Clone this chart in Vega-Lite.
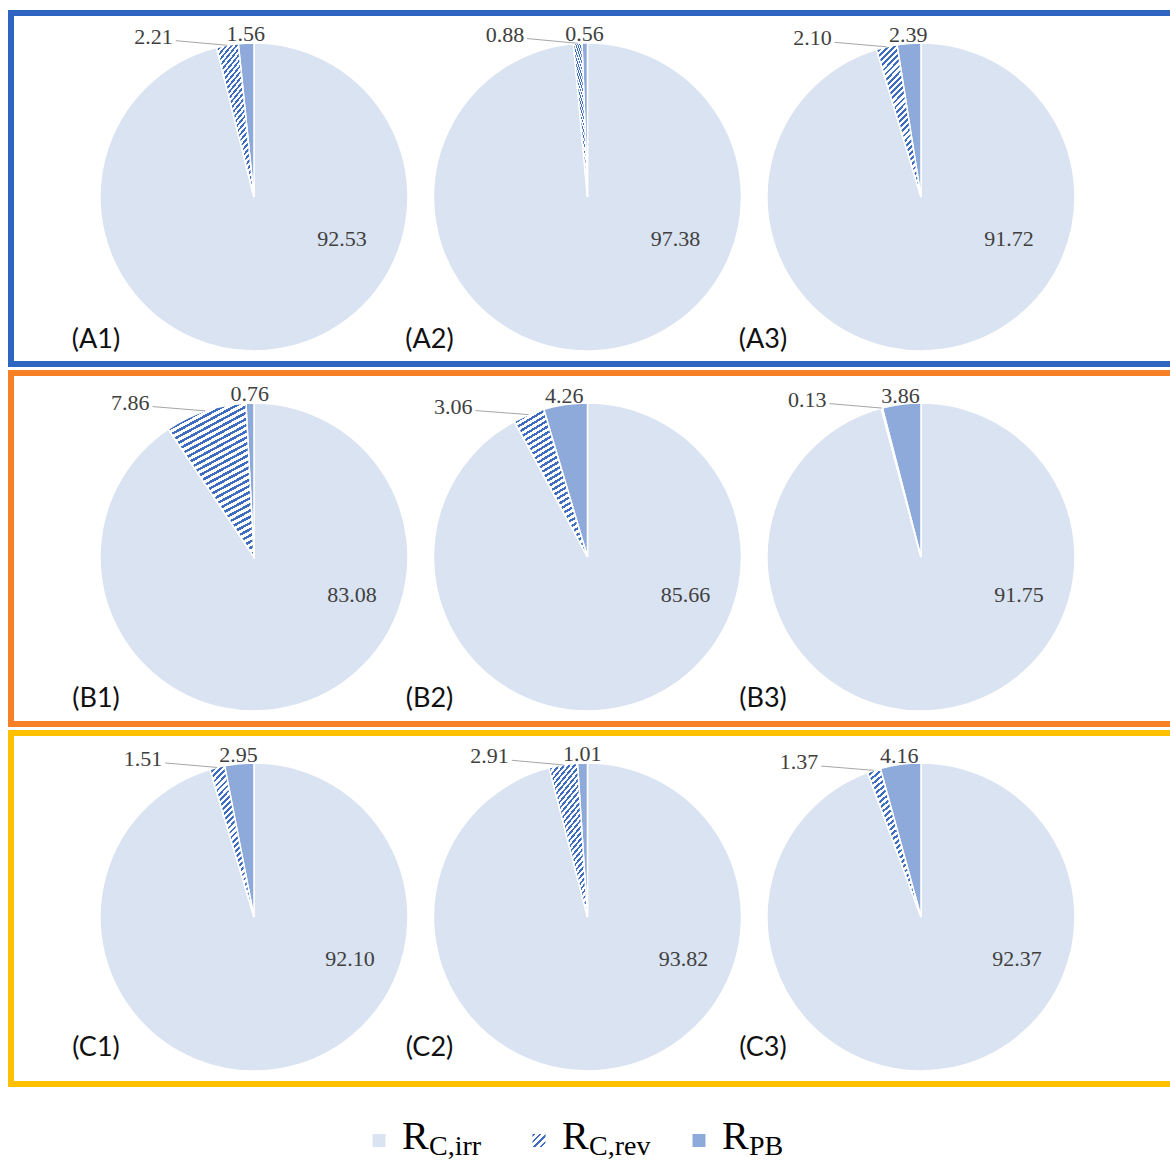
{
  "$schema": "https://vega.github.io/schema/vega-lite/v6.json",
  "background": "#ffffff",
  "padding": {"left": 8, "top": 10, "right": 0, "bottom": 0},
  "config": {"view": {"stroke": null}},
  "datasets": {
    "shares": [
      {"pie": "A1", "row": "A", "col": 1, "part": "irr", "ord": 0, "value": 92.53},
      {"pie": "A1", "row": "A", "col": 1, "part": "rev", "ord": 1, "value": 2.21},
      {"pie": "A1", "row": "A", "col": 1, "part": "pb", "ord": 2, "value": 1.56},
      {"pie": "A2", "row": "A", "col": 2, "part": "irr", "ord": 0, "value": 97.38},
      {"pie": "A2", "row": "A", "col": 2, "part": "rev", "ord": 1, "value": 0.88},
      {"pie": "A2", "row": "A", "col": 2, "part": "pb", "ord": 2, "value": 0.56},
      {"pie": "A3", "row": "A", "col": 3, "part": "irr", "ord": 0, "value": 91.72},
      {"pie": "A3", "row": "A", "col": 3, "part": "rev", "ord": 1, "value": 2.10},
      {"pie": "A3", "row": "A", "col": 3, "part": "pb", "ord": 2, "value": 2.39},
      {"pie": "B1", "row": "B", "col": 1, "part": "irr", "ord": 0, "value": 83.08},
      {"pie": "B1", "row": "B", "col": 1, "part": "rev", "ord": 1, "value": 7.86},
      {"pie": "B1", "row": "B", "col": 1, "part": "pb", "ord": 2, "value": 0.76},
      {"pie": "B2", "row": "B", "col": 2, "part": "irr", "ord": 0, "value": 85.66},
      {"pie": "B2", "row": "B", "col": 2, "part": "rev", "ord": 1, "value": 3.06},
      {"pie": "B2", "row": "B", "col": 2, "part": "pb", "ord": 2, "value": 4.26},
      {"pie": "B3", "row": "B", "col": 3, "part": "irr", "ord": 0, "value": 91.75},
      {"pie": "B3", "row": "B", "col": 3, "part": "rev", "ord": 1, "value": 0.13},
      {"pie": "B3", "row": "B", "col": 3, "part": "pb", "ord": 2, "value": 3.86},
      {"pie": "C1", "row": "C", "col": 1, "part": "irr", "ord": 0, "value": 92.10},
      {"pie": "C1", "row": "C", "col": 1, "part": "rev", "ord": 1, "value": 1.51},
      {"pie": "C1", "row": "C", "col": 1, "part": "pb", "ord": 2, "value": 2.95},
      {"pie": "C2", "row": "C", "col": 2, "part": "irr", "ord": 0, "value": 93.82},
      {"pie": "C2", "row": "C", "col": 2, "part": "rev", "ord": 1, "value": 2.91},
      {"pie": "C2", "row": "C", "col": 2, "part": "pb", "ord": 2, "value": 1.01},
      {"pie": "C3", "row": "C", "col": 3, "part": "irr", "ord": 0, "value": 92.37},
      {"pie": "C3", "row": "C", "col": 3, "part": "rev", "ord": 1, "value": 1.37},
      {"pie": "C3", "row": "C", "col": 3, "part": "pb", "ord": 2, "value": 4.16}
    ],
    "keys": [
      {"key": "irr", "main": "R", "sub": "C,irr"},
      {"key": "rev", "main": "R", "sub": "C,rev"},
      {"key": "pb", "main": "R", "sub": "PB"}
    ]
  },
  "data": {"name": "shares"},
  "transform": [
    {"joinaggregate": [{"op": "sum", "field": "value", "as": "total"}], "groupby": ["pie"]},
    {"window": [{"op": "sum", "field": "value", "as": "cum"}], "groupby": ["pie"], "sort": [{"field": "ord"}], "frame": [null, 0]},
    {"calculate": "(datum.cum - datum.value) / datum.total", "as": "f0"},
    {"calculate": "datum.cum / datum.total", "as": "f1"},
    {"calculate": "PI * (datum.f0 + datum.f1)", "as": "ang"},
    {"calculate": "datum.col + 0.488 * sin(datum.ang)", "as": "lx"},
    {"calculate": "0.488 * cos(datum.ang)", "as": "ly"},
    {"calculate": "datum.lx - 0.15", "as": "rx"},
    {"calculate": "datum.ly - 0.012", "as": "ry"},
    {"calculate": "datum.col + 0.4618 * sin(datum.ang)", "as": "ex"},
    {"calculate": "0.4618 * cos(datum.ang)", "as": "ey"},
    {"calculate": "'(' + datum.pie + ')'", "as": "panel"}
  ],
  "bounds": "flush",
  "spacing": 9,
  "vconcat": [
    {
      "width": 1163, "height": 351,
      "view": {"stroke": "#2e65c0", "strokeWidth": 6},
      "transform": [{"filter": "datum.row === 'A'"}],
      "layer": [
        {
          "transform": [{"filter": "datum.part !== 'rev'"}],
          "mark": {"type": "arc", "radius": 154, "stroke": "#ffffff", "strokeWidth": 1.5},
          "encoding": {
            "x": {"field": "col", "type": "quantitative", "stack": null, "scale": {"domain": [0.2714, 3.7587], "nice": false, "zero": false}, "axis": null},
            "y": {"datum": 0, "type": "quantitative", "scale": {"domain": [-0.5007, 0.5517], "nice": false, "zero": false}, "axis": null},
            "theta": {"field": "f0", "type": "quantitative", "stack": null, "scale": {"domain": [0, 1], "range": [0, 6.283185307179586]}},
            "theta2": {"field": "f1"},
            "fill": {"condition": {"test": "datum.part === 'pb'", "value": "#8eaadb"}, "value": "#dae3f1"}
          }
        },
        {
          "transform": [{"filter": "datum.part === 'rev'"}],
          "mark": {
            "type": "arc", "radius": 154, "stroke": "#ffffff", "strokeWidth": 1.5,
            "fill": {
              "gradient": "linear", "x1": 0, "y1": 0, "x2": 0.358, "y2": 1.193,
              "stops": [
                {"offset": 0, "color": "#3d6cc0"}, {"offset": 0.0141, "color": "#3d6cc0"}, {"offset": 0.0141, "color": "#ffffff"}, {"offset": 0.0313, "color": "#ffffff"},
                {"offset": 0.0313, "color": "#3d6cc0"}, {"offset": 0.0453, "color": "#3d6cc0"}, {"offset": 0.0453, "color": "#ffffff"}, {"offset": 0.0625, "color": "#ffffff"},
                {"offset": 0.0625, "color": "#3d6cc0"}, {"offset": 0.0766, "color": "#3d6cc0"}, {"offset": 0.0766, "color": "#ffffff"}, {"offset": 0.0938, "color": "#ffffff"},
                {"offset": 0.0938, "color": "#3d6cc0"}, {"offset": 0.1078, "color": "#3d6cc0"}, {"offset": 0.1078, "color": "#ffffff"}, {"offset": 0.125, "color": "#ffffff"},
                {"offset": 0.125, "color": "#3d6cc0"}, {"offset": 0.1391, "color": "#3d6cc0"}, {"offset": 0.1391, "color": "#ffffff"}, {"offset": 0.1563, "color": "#ffffff"},
                {"offset": 0.1563, "color": "#3d6cc0"}, {"offset": 0.1703, "color": "#3d6cc0"}, {"offset": 0.1703, "color": "#ffffff"}, {"offset": 0.1875, "color": "#ffffff"},
                {"offset": 0.1875, "color": "#3d6cc0"}, {"offset": 0.2016, "color": "#3d6cc0"}, {"offset": 0.2016, "color": "#ffffff"}, {"offset": 0.2188, "color": "#ffffff"},
                {"offset": 0.2188, "color": "#3d6cc0"}, {"offset": 0.2328, "color": "#3d6cc0"}, {"offset": 0.2328, "color": "#ffffff"}, {"offset": 0.25, "color": "#ffffff"},
                {"offset": 0.25, "color": "#3d6cc0"}, {"offset": 0.2641, "color": "#3d6cc0"}, {"offset": 0.2641, "color": "#ffffff"}, {"offset": 0.2813, "color": "#ffffff"},
                {"offset": 0.2813, "color": "#3d6cc0"}, {"offset": 0.2953, "color": "#3d6cc0"}, {"offset": 0.2953, "color": "#ffffff"}, {"offset": 0.3125, "color": "#ffffff"},
                {"offset": 0.3125, "color": "#3d6cc0"}, {"offset": 0.3266, "color": "#3d6cc0"}, {"offset": 0.3266, "color": "#ffffff"}, {"offset": 0.3438, "color": "#ffffff"},
                {"offset": 0.3438, "color": "#3d6cc0"}, {"offset": 0.3578, "color": "#3d6cc0"}, {"offset": 0.3578, "color": "#ffffff"}, {"offset": 0.375, "color": "#ffffff"},
                {"offset": 0.375, "color": "#3d6cc0"}, {"offset": 0.3891, "color": "#3d6cc0"}, {"offset": 0.3891, "color": "#ffffff"}, {"offset": 0.4063, "color": "#ffffff"},
                {"offset": 0.4063, "color": "#3d6cc0"}, {"offset": 0.4203, "color": "#3d6cc0"}, {"offset": 0.4203, "color": "#ffffff"}, {"offset": 0.4375, "color": "#ffffff"},
                {"offset": 0.4375, "color": "#3d6cc0"}, {"offset": 0.4516, "color": "#3d6cc0"}, {"offset": 0.4516, "color": "#ffffff"}, {"offset": 0.4688, "color": "#ffffff"},
                {"offset": 0.4688, "color": "#3d6cc0"}, {"offset": 0.4828, "color": "#3d6cc0"}, {"offset": 0.4828, "color": "#ffffff"}, {"offset": 0.5, "color": "#ffffff"},
                {"offset": 0.5, "color": "#3d6cc0"}, {"offset": 0.5141, "color": "#3d6cc0"}, {"offset": 0.5141, "color": "#ffffff"}, {"offset": 0.5313, "color": "#ffffff"},
                {"offset": 0.5313, "color": "#3d6cc0"}, {"offset": 0.5453, "color": "#3d6cc0"}, {"offset": 0.5453, "color": "#ffffff"}, {"offset": 0.5625, "color": "#ffffff"},
                {"offset": 0.5625, "color": "#3d6cc0"}, {"offset": 0.5766, "color": "#3d6cc0"}, {"offset": 0.5766, "color": "#ffffff"}, {"offset": 0.5938, "color": "#ffffff"},
                {"offset": 0.5938, "color": "#3d6cc0"}, {"offset": 0.6078, "color": "#3d6cc0"}, {"offset": 0.6078, "color": "#ffffff"}, {"offset": 0.625, "color": "#ffffff"},
                {"offset": 0.625, "color": "#3d6cc0"}, {"offset": 0.6391, "color": "#3d6cc0"}, {"offset": 0.6391, "color": "#ffffff"}, {"offset": 0.6563, "color": "#ffffff"},
                {"offset": 0.6563, "color": "#3d6cc0"}, {"offset": 0.6703, "color": "#3d6cc0"}, {"offset": 0.6703, "color": "#ffffff"}, {"offset": 0.6875, "color": "#ffffff"},
                {"offset": 0.6875, "color": "#3d6cc0"}, {"offset": 0.7016, "color": "#3d6cc0"}, {"offset": 0.7016, "color": "#ffffff"}, {"offset": 0.7188, "color": "#ffffff"},
                {"offset": 0.7188, "color": "#3d6cc0"}, {"offset": 0.7328, "color": "#3d6cc0"}, {"offset": 0.7328, "color": "#ffffff"}, {"offset": 0.75, "color": "#ffffff"},
                {"offset": 0.75, "color": "#3d6cc0"}, {"offset": 0.7641, "color": "#3d6cc0"}, {"offset": 0.7641, "color": "#ffffff"}, {"offset": 0.7813, "color": "#ffffff"},
                {"offset": 0.7813, "color": "#3d6cc0"}, {"offset": 0.7953, "color": "#3d6cc0"}, {"offset": 0.7953, "color": "#ffffff"}, {"offset": 0.8125, "color": "#ffffff"},
                {"offset": 0.8125, "color": "#3d6cc0"}, {"offset": 0.8266, "color": "#3d6cc0"}, {"offset": 0.8266, "color": "#ffffff"}, {"offset": 0.8438, "color": "#ffffff"},
                {"offset": 0.8438, "color": "#3d6cc0"}, {"offset": 0.8578, "color": "#3d6cc0"}, {"offset": 0.8578, "color": "#ffffff"}, {"offset": 0.875, "color": "#ffffff"},
                {"offset": 0.875, "color": "#3d6cc0"}, {"offset": 0.8891, "color": "#3d6cc0"}, {"offset": 0.8891, "color": "#ffffff"}, {"offset": 0.9063, "color": "#ffffff"},
                {"offset": 0.9063, "color": "#3d6cc0"}, {"offset": 0.9203, "color": "#3d6cc0"}, {"offset": 0.9203, "color": "#ffffff"}, {"offset": 0.9375, "color": "#ffffff"},
                {"offset": 0.9375, "color": "#3d6cc0"}, {"offset": 0.9516, "color": "#3d6cc0"}, {"offset": 0.9516, "color": "#ffffff"}, {"offset": 0.9688, "color": "#ffffff"},
                {"offset": 0.9688, "color": "#3d6cc0"}, {"offset": 0.9828, "color": "#3d6cc0"}, {"offset": 0.9828, "color": "#ffffff"}, {"offset": 1, "color": "#ffffff"}
              ]
            }
          },
          "encoding": {
            "x": {"field": "col", "type": "quantitative", "stack": null, "scale": {"domain": [0.2714, 3.7587], "nice": false, "zero": false}, "axis": null},
            "y": {"datum": 0, "type": "quantitative", "scale": {"domain": [-0.5007, 0.5517], "nice": false, "zero": false}, "axis": null},
            "theta": {"field": "f0", "type": "quantitative", "stack": null, "scale": {"domain": [0, 1], "range": [0, 6.283185307179586]}},
            "theta2": {"field": "f1"}
          }
        },
        {
          "transform": [{"filter": "datum.part === 'rev'"}],
          "mark": {"type": "rule", "color": "#a6a6a6", "strokeWidth": 1},
          "encoding": {
            "x": {"field": "rx", "type": "quantitative", "scale": {"domain": [0.2714, 3.7587], "nice": false, "zero": false}, "axis": null},
            "y": {"field": "ry", "type": "quantitative", "scale": {"domain": [-0.5007, 0.5517], "nice": false, "zero": false}, "axis": null},
            "x2": {"field": "ex"},
            "y2": {"field": "ey"}
          }
        },
        {
          "transform": [{"filter": "datum.part === 'irr'"}],
          "mark": {"type": "text", "font": "Liberation Serif", "fontSize": 22, "fill": "#404040", "align": "center", "baseline": "middle", "dx": 88, "dy": 42},
          "encoding": {
            "x": {"field": "col", "type": "quantitative", "scale": {"domain": [0.2714, 3.7587], "nice": false, "zero": false}, "axis": null},
            "y": {"datum": 0, "type": "quantitative", "scale": {"domain": [-0.5007, 0.5517], "nice": false, "zero": false}, "axis": null},
            "text": {"field": "value", "type": "quantitative", "format": ".2f"}
          }
        },
        {
          "transform": [{"filter": "datum.part === 'pb'"}],
          "mark": {"type": "text", "font": "Liberation Serif", "fontSize": 22, "fill": "#404040", "align": "center", "baseline": "middle"},
          "encoding": {
            "x": {"field": "lx", "type": "quantitative", "scale": {"domain": [0.2714, 3.7587], "nice": false, "zero": false}, "axis": null},
            "y": {"field": "ly", "type": "quantitative", "scale": {"domain": [-0.5007, 0.5517], "nice": false, "zero": false}, "axis": null},
            "text": {"field": "value", "type": "quantitative", "format": ".2f"}
          }
        },
        {
          "transform": [{"filter": "datum.part === 'rev'"}],
          "mark": {"type": "text", "font": "Liberation Serif", "fontSize": 22, "fill": "#404040", "align": "right", "baseline": "middle", "dx": -53},
          "encoding": {
            "x": {"field": "lx", "type": "quantitative", "scale": {"domain": [0.2714, 3.7587], "nice": false, "zero": false}, "axis": null},
            "y": {"field": "ly", "type": "quantitative", "scale": {"domain": [-0.5007, 0.5517], "nice": false, "zero": false}, "axis": null},
            "text": {"field": "value", "type": "quantitative", "format": ".2f"}
          }
        },
        {
          "transform": [{"filter": "datum.part === 'irr'"}],
          "mark": {"type": "text", "font": "Lato", "fontSize": 27, "fill": "#111111", "align": "center", "baseline": "middle", "dx": -158, "dy": 143},
          "encoding": {
            "x": {"field": "col", "type": "quantitative", "scale": {"domain": [0.2714, 3.7587], "nice": false, "zero": false}, "axis": null},
            "y": {"datum": 0, "type": "quantitative", "scale": {"domain": [-0.5007, 0.5517], "nice": false, "zero": false}, "axis": null},
            "text": {"field": "panel"}
          }
        }
      ]
    },
    {
      "width": 1163, "height": 351,
      "view": {"stroke": "#f58025", "strokeWidth": 6},
      "transform": [{"filter": "datum.row === 'B'"}],
      "layer": [
        {
          "transform": [{"filter": "datum.part !== 'rev'"}],
          "mark": {"type": "arc", "radius": 154, "stroke": "#ffffff", "strokeWidth": 1.5},
          "encoding": {
            "x": {"field": "col", "type": "quantitative", "stack": null, "scale": {"domain": [0.2714, 3.7587], "nice": false, "zero": false}, "axis": null},
            "y": {"datum": 0, "type": "quantitative", "scale": {"domain": [-0.5007, 0.5517], "nice": false, "zero": false}, "axis": null},
            "theta": {"field": "f0", "type": "quantitative", "stack": null, "scale": {"domain": [0, 1], "range": [0, 6.283185307179586]}},
            "theta2": {"field": "f1"},
            "fill": {"condition": {"test": "datum.part === 'pb'", "value": "#8eaadb"}, "value": "#dae3f1"}
          }
        },
        {
          "transform": [{"filter": "datum.part === 'rev'"}],
          "mark": {
            "type": "arc", "radius": 154, "stroke": "#ffffff", "strokeWidth": 1.5,
            "fill": {
              "gradient": "linear", "x1": 0, "y1": 0, "x2": 0.358, "y2": 1.193,
              "stops": [
                {"offset": 0, "color": "#3d6cc0"}, {"offset": 0.0141, "color": "#3d6cc0"}, {"offset": 0.0141, "color": "#ffffff"}, {"offset": 0.0313, "color": "#ffffff"},
                {"offset": 0.0313, "color": "#3d6cc0"}, {"offset": 0.0453, "color": "#3d6cc0"}, {"offset": 0.0453, "color": "#ffffff"}, {"offset": 0.0625, "color": "#ffffff"},
                {"offset": 0.0625, "color": "#3d6cc0"}, {"offset": 0.0766, "color": "#3d6cc0"}, {"offset": 0.0766, "color": "#ffffff"}, {"offset": 0.0938, "color": "#ffffff"},
                {"offset": 0.0938, "color": "#3d6cc0"}, {"offset": 0.1078, "color": "#3d6cc0"}, {"offset": 0.1078, "color": "#ffffff"}, {"offset": 0.125, "color": "#ffffff"},
                {"offset": 0.125, "color": "#3d6cc0"}, {"offset": 0.1391, "color": "#3d6cc0"}, {"offset": 0.1391, "color": "#ffffff"}, {"offset": 0.1563, "color": "#ffffff"},
                {"offset": 0.1563, "color": "#3d6cc0"}, {"offset": 0.1703, "color": "#3d6cc0"}, {"offset": 0.1703, "color": "#ffffff"}, {"offset": 0.1875, "color": "#ffffff"},
                {"offset": 0.1875, "color": "#3d6cc0"}, {"offset": 0.2016, "color": "#3d6cc0"}, {"offset": 0.2016, "color": "#ffffff"}, {"offset": 0.2188, "color": "#ffffff"},
                {"offset": 0.2188, "color": "#3d6cc0"}, {"offset": 0.2328, "color": "#3d6cc0"}, {"offset": 0.2328, "color": "#ffffff"}, {"offset": 0.25, "color": "#ffffff"},
                {"offset": 0.25, "color": "#3d6cc0"}, {"offset": 0.2641, "color": "#3d6cc0"}, {"offset": 0.2641, "color": "#ffffff"}, {"offset": 0.2813, "color": "#ffffff"},
                {"offset": 0.2813, "color": "#3d6cc0"}, {"offset": 0.2953, "color": "#3d6cc0"}, {"offset": 0.2953, "color": "#ffffff"}, {"offset": 0.3125, "color": "#ffffff"},
                {"offset": 0.3125, "color": "#3d6cc0"}, {"offset": 0.3266, "color": "#3d6cc0"}, {"offset": 0.3266, "color": "#ffffff"}, {"offset": 0.3438, "color": "#ffffff"},
                {"offset": 0.3438, "color": "#3d6cc0"}, {"offset": 0.3578, "color": "#3d6cc0"}, {"offset": 0.3578, "color": "#ffffff"}, {"offset": 0.375, "color": "#ffffff"},
                {"offset": 0.375, "color": "#3d6cc0"}, {"offset": 0.3891, "color": "#3d6cc0"}, {"offset": 0.3891, "color": "#ffffff"}, {"offset": 0.4063, "color": "#ffffff"},
                {"offset": 0.4063, "color": "#3d6cc0"}, {"offset": 0.4203, "color": "#3d6cc0"}, {"offset": 0.4203, "color": "#ffffff"}, {"offset": 0.4375, "color": "#ffffff"},
                {"offset": 0.4375, "color": "#3d6cc0"}, {"offset": 0.4516, "color": "#3d6cc0"}, {"offset": 0.4516, "color": "#ffffff"}, {"offset": 0.4688, "color": "#ffffff"},
                {"offset": 0.4688, "color": "#3d6cc0"}, {"offset": 0.4828, "color": "#3d6cc0"}, {"offset": 0.4828, "color": "#ffffff"}, {"offset": 0.5, "color": "#ffffff"},
                {"offset": 0.5, "color": "#3d6cc0"}, {"offset": 0.5141, "color": "#3d6cc0"}, {"offset": 0.5141, "color": "#ffffff"}, {"offset": 0.5313, "color": "#ffffff"},
                {"offset": 0.5313, "color": "#3d6cc0"}, {"offset": 0.5453, "color": "#3d6cc0"}, {"offset": 0.5453, "color": "#ffffff"}, {"offset": 0.5625, "color": "#ffffff"},
                {"offset": 0.5625, "color": "#3d6cc0"}, {"offset": 0.5766, "color": "#3d6cc0"}, {"offset": 0.5766, "color": "#ffffff"}, {"offset": 0.5938, "color": "#ffffff"},
                {"offset": 0.5938, "color": "#3d6cc0"}, {"offset": 0.6078, "color": "#3d6cc0"}, {"offset": 0.6078, "color": "#ffffff"}, {"offset": 0.625, "color": "#ffffff"},
                {"offset": 0.625, "color": "#3d6cc0"}, {"offset": 0.6391, "color": "#3d6cc0"}, {"offset": 0.6391, "color": "#ffffff"}, {"offset": 0.6563, "color": "#ffffff"},
                {"offset": 0.6563, "color": "#3d6cc0"}, {"offset": 0.6703, "color": "#3d6cc0"}, {"offset": 0.6703, "color": "#ffffff"}, {"offset": 0.6875, "color": "#ffffff"},
                {"offset": 0.6875, "color": "#3d6cc0"}, {"offset": 0.7016, "color": "#3d6cc0"}, {"offset": 0.7016, "color": "#ffffff"}, {"offset": 0.7188, "color": "#ffffff"},
                {"offset": 0.7188, "color": "#3d6cc0"}, {"offset": 0.7328, "color": "#3d6cc0"}, {"offset": 0.7328, "color": "#ffffff"}, {"offset": 0.75, "color": "#ffffff"},
                {"offset": 0.75, "color": "#3d6cc0"}, {"offset": 0.7641, "color": "#3d6cc0"}, {"offset": 0.7641, "color": "#ffffff"}, {"offset": 0.7813, "color": "#ffffff"},
                {"offset": 0.7813, "color": "#3d6cc0"}, {"offset": 0.7953, "color": "#3d6cc0"}, {"offset": 0.7953, "color": "#ffffff"}, {"offset": 0.8125, "color": "#ffffff"},
                {"offset": 0.8125, "color": "#3d6cc0"}, {"offset": 0.8266, "color": "#3d6cc0"}, {"offset": 0.8266, "color": "#ffffff"}, {"offset": 0.8438, "color": "#ffffff"},
                {"offset": 0.8438, "color": "#3d6cc0"}, {"offset": 0.8578, "color": "#3d6cc0"}, {"offset": 0.8578, "color": "#ffffff"}, {"offset": 0.875, "color": "#ffffff"},
                {"offset": 0.875, "color": "#3d6cc0"}, {"offset": 0.8891, "color": "#3d6cc0"}, {"offset": 0.8891, "color": "#ffffff"}, {"offset": 0.9063, "color": "#ffffff"},
                {"offset": 0.9063, "color": "#3d6cc0"}, {"offset": 0.9203, "color": "#3d6cc0"}, {"offset": 0.9203, "color": "#ffffff"}, {"offset": 0.9375, "color": "#ffffff"},
                {"offset": 0.9375, "color": "#3d6cc0"}, {"offset": 0.9516, "color": "#3d6cc0"}, {"offset": 0.9516, "color": "#ffffff"}, {"offset": 0.9688, "color": "#ffffff"},
                {"offset": 0.9688, "color": "#3d6cc0"}, {"offset": 0.9828, "color": "#3d6cc0"}, {"offset": 0.9828, "color": "#ffffff"}, {"offset": 1, "color": "#ffffff"}
              ]
            }
          },
          "encoding": {
            "x": {"field": "col", "type": "quantitative", "stack": null, "scale": {"domain": [0.2714, 3.7587], "nice": false, "zero": false}, "axis": null},
            "y": {"datum": 0, "type": "quantitative", "scale": {"domain": [-0.5007, 0.5517], "nice": false, "zero": false}, "axis": null},
            "theta": {"field": "f0", "type": "quantitative", "stack": null, "scale": {"domain": [0, 1], "range": [0, 6.283185307179586]}},
            "theta2": {"field": "f1"}
          }
        },
        {
          "transform": [{"filter": "datum.part === 'rev'"}],
          "mark": {"type": "rule", "color": "#a6a6a6", "strokeWidth": 1},
          "encoding": {
            "x": {"field": "rx", "type": "quantitative", "scale": {"domain": [0.2714, 3.7587], "nice": false, "zero": false}, "axis": null},
            "y": {"field": "ry", "type": "quantitative", "scale": {"domain": [-0.5007, 0.5517], "nice": false, "zero": false}, "axis": null},
            "x2": {"field": "ex"},
            "y2": {"field": "ey"}
          }
        },
        {
          "transform": [{"filter": "datum.part === 'irr'"}],
          "mark": {"type": "text", "font": "Liberation Serif", "fontSize": 22, "fill": "#404040", "align": "center", "baseline": "middle", "dx": 98, "dy": 38},
          "encoding": {
            "x": {"field": "col", "type": "quantitative", "scale": {"domain": [0.2714, 3.7587], "nice": false, "zero": false}, "axis": null},
            "y": {"datum": 0, "type": "quantitative", "scale": {"domain": [-0.5007, 0.5517], "nice": false, "zero": false}, "axis": null},
            "text": {"field": "value", "type": "quantitative", "format": ".2f"}
          }
        },
        {
          "transform": [{"filter": "datum.part === 'pb'"}],
          "mark": {"type": "text", "font": "Liberation Serif", "fontSize": 22, "fill": "#404040", "align": "center", "baseline": "middle"},
          "encoding": {
            "x": {"field": "lx", "type": "quantitative", "scale": {"domain": [0.2714, 3.7587], "nice": false, "zero": false}, "axis": null},
            "y": {"field": "ly", "type": "quantitative", "scale": {"domain": [-0.5007, 0.5517], "nice": false, "zero": false}, "axis": null},
            "text": {"field": "value", "type": "quantitative", "format": ".2f"}
          }
        },
        {
          "transform": [{"filter": "datum.part === 'rev'"}],
          "mark": {"type": "text", "font": "Liberation Serif", "fontSize": 22, "fill": "#404040", "align": "right", "baseline": "middle", "dx": -53},
          "encoding": {
            "x": {"field": "lx", "type": "quantitative", "scale": {"domain": [0.2714, 3.7587], "nice": false, "zero": false}, "axis": null},
            "y": {"field": "ly", "type": "quantitative", "scale": {"domain": [-0.5007, 0.5517], "nice": false, "zero": false}, "axis": null},
            "text": {"field": "value", "type": "quantitative", "format": ".2f"}
          }
        },
        {
          "transform": [{"filter": "datum.part === 'irr'"}],
          "mark": {"type": "text", "font": "Lato", "fontSize": 27, "fill": "#111111", "align": "center", "baseline": "middle", "dx": -158, "dy": 142},
          "encoding": {
            "x": {"field": "col", "type": "quantitative", "scale": {"domain": [0.2714, 3.7587], "nice": false, "zero": false}, "axis": null},
            "y": {"datum": 0, "type": "quantitative", "scale": {"domain": [-0.5007, 0.5517], "nice": false, "zero": false}, "axis": null},
            "text": {"field": "panel"}
          }
        }
      ]
    },
    {
      "width": 1163, "height": 351,
      "view": {"stroke": "#ffc000", "strokeWidth": 6},
      "transform": [{"filter": "datum.row === 'C'"}],
      "layer": [
        {
          "transform": [{"filter": "datum.part !== 'rev'"}],
          "mark": {"type": "arc", "radius": 154, "stroke": "#ffffff", "strokeWidth": 1.5},
          "encoding": {
            "x": {"field": "col", "type": "quantitative", "stack": null, "scale": {"domain": [0.2714, 3.7587], "nice": false, "zero": false}, "axis": null},
            "y": {"datum": 0, "type": "quantitative", "scale": {"domain": [-0.5007, 0.5517], "nice": false, "zero": false}, "axis": null},
            "theta": {"field": "f0", "type": "quantitative", "stack": null, "scale": {"domain": [0, 1], "range": [0, 6.283185307179586]}},
            "theta2": {"field": "f1"},
            "fill": {"condition": {"test": "datum.part === 'pb'", "value": "#8eaadb"}, "value": "#dae3f1"}
          }
        },
        {
          "transform": [{"filter": "datum.part === 'rev'"}],
          "mark": {
            "type": "arc", "radius": 154, "stroke": "#ffffff", "strokeWidth": 1.5,
            "fill": {
              "gradient": "linear", "x1": 0, "y1": 0, "x2": 0.358, "y2": 1.193,
              "stops": [
                {"offset": 0, "color": "#3d6cc0"}, {"offset": 0.0141, "color": "#3d6cc0"}, {"offset": 0.0141, "color": "#ffffff"}, {"offset": 0.0313, "color": "#ffffff"},
                {"offset": 0.0313, "color": "#3d6cc0"}, {"offset": 0.0453, "color": "#3d6cc0"}, {"offset": 0.0453, "color": "#ffffff"}, {"offset": 0.0625, "color": "#ffffff"},
                {"offset": 0.0625, "color": "#3d6cc0"}, {"offset": 0.0766, "color": "#3d6cc0"}, {"offset": 0.0766, "color": "#ffffff"}, {"offset": 0.0938, "color": "#ffffff"},
                {"offset": 0.0938, "color": "#3d6cc0"}, {"offset": 0.1078, "color": "#3d6cc0"}, {"offset": 0.1078, "color": "#ffffff"}, {"offset": 0.125, "color": "#ffffff"},
                {"offset": 0.125, "color": "#3d6cc0"}, {"offset": 0.1391, "color": "#3d6cc0"}, {"offset": 0.1391, "color": "#ffffff"}, {"offset": 0.1563, "color": "#ffffff"},
                {"offset": 0.1563, "color": "#3d6cc0"}, {"offset": 0.1703, "color": "#3d6cc0"}, {"offset": 0.1703, "color": "#ffffff"}, {"offset": 0.1875, "color": "#ffffff"},
                {"offset": 0.1875, "color": "#3d6cc0"}, {"offset": 0.2016, "color": "#3d6cc0"}, {"offset": 0.2016, "color": "#ffffff"}, {"offset": 0.2188, "color": "#ffffff"},
                {"offset": 0.2188, "color": "#3d6cc0"}, {"offset": 0.2328, "color": "#3d6cc0"}, {"offset": 0.2328, "color": "#ffffff"}, {"offset": 0.25, "color": "#ffffff"},
                {"offset": 0.25, "color": "#3d6cc0"}, {"offset": 0.2641, "color": "#3d6cc0"}, {"offset": 0.2641, "color": "#ffffff"}, {"offset": 0.2813, "color": "#ffffff"},
                {"offset": 0.2813, "color": "#3d6cc0"}, {"offset": 0.2953, "color": "#3d6cc0"}, {"offset": 0.2953, "color": "#ffffff"}, {"offset": 0.3125, "color": "#ffffff"},
                {"offset": 0.3125, "color": "#3d6cc0"}, {"offset": 0.3266, "color": "#3d6cc0"}, {"offset": 0.3266, "color": "#ffffff"}, {"offset": 0.3438, "color": "#ffffff"},
                {"offset": 0.3438, "color": "#3d6cc0"}, {"offset": 0.3578, "color": "#3d6cc0"}, {"offset": 0.3578, "color": "#ffffff"}, {"offset": 0.375, "color": "#ffffff"},
                {"offset": 0.375, "color": "#3d6cc0"}, {"offset": 0.3891, "color": "#3d6cc0"}, {"offset": 0.3891, "color": "#ffffff"}, {"offset": 0.4063, "color": "#ffffff"},
                {"offset": 0.4063, "color": "#3d6cc0"}, {"offset": 0.4203, "color": "#3d6cc0"}, {"offset": 0.4203, "color": "#ffffff"}, {"offset": 0.4375, "color": "#ffffff"},
                {"offset": 0.4375, "color": "#3d6cc0"}, {"offset": 0.4516, "color": "#3d6cc0"}, {"offset": 0.4516, "color": "#ffffff"}, {"offset": 0.4688, "color": "#ffffff"},
                {"offset": 0.4688, "color": "#3d6cc0"}, {"offset": 0.4828, "color": "#3d6cc0"}, {"offset": 0.4828, "color": "#ffffff"}, {"offset": 0.5, "color": "#ffffff"},
                {"offset": 0.5, "color": "#3d6cc0"}, {"offset": 0.5141, "color": "#3d6cc0"}, {"offset": 0.5141, "color": "#ffffff"}, {"offset": 0.5313, "color": "#ffffff"},
                {"offset": 0.5313, "color": "#3d6cc0"}, {"offset": 0.5453, "color": "#3d6cc0"}, {"offset": 0.5453, "color": "#ffffff"}, {"offset": 0.5625, "color": "#ffffff"},
                {"offset": 0.5625, "color": "#3d6cc0"}, {"offset": 0.5766, "color": "#3d6cc0"}, {"offset": 0.5766, "color": "#ffffff"}, {"offset": 0.5938, "color": "#ffffff"},
                {"offset": 0.5938, "color": "#3d6cc0"}, {"offset": 0.6078, "color": "#3d6cc0"}, {"offset": 0.6078, "color": "#ffffff"}, {"offset": 0.625, "color": "#ffffff"},
                {"offset": 0.625, "color": "#3d6cc0"}, {"offset": 0.6391, "color": "#3d6cc0"}, {"offset": 0.6391, "color": "#ffffff"}, {"offset": 0.6563, "color": "#ffffff"},
                {"offset": 0.6563, "color": "#3d6cc0"}, {"offset": 0.6703, "color": "#3d6cc0"}, {"offset": 0.6703, "color": "#ffffff"}, {"offset": 0.6875, "color": "#ffffff"},
                {"offset": 0.6875, "color": "#3d6cc0"}, {"offset": 0.7016, "color": "#3d6cc0"}, {"offset": 0.7016, "color": "#ffffff"}, {"offset": 0.7188, "color": "#ffffff"},
                {"offset": 0.7188, "color": "#3d6cc0"}, {"offset": 0.7328, "color": "#3d6cc0"}, {"offset": 0.7328, "color": "#ffffff"}, {"offset": 0.75, "color": "#ffffff"},
                {"offset": 0.75, "color": "#3d6cc0"}, {"offset": 0.7641, "color": "#3d6cc0"}, {"offset": 0.7641, "color": "#ffffff"}, {"offset": 0.7813, "color": "#ffffff"},
                {"offset": 0.7813, "color": "#3d6cc0"}, {"offset": 0.7953, "color": "#3d6cc0"}, {"offset": 0.7953, "color": "#ffffff"}, {"offset": 0.8125, "color": "#ffffff"},
                {"offset": 0.8125, "color": "#3d6cc0"}, {"offset": 0.8266, "color": "#3d6cc0"}, {"offset": 0.8266, "color": "#ffffff"}, {"offset": 0.8438, "color": "#ffffff"},
                {"offset": 0.8438, "color": "#3d6cc0"}, {"offset": 0.8578, "color": "#3d6cc0"}, {"offset": 0.8578, "color": "#ffffff"}, {"offset": 0.875, "color": "#ffffff"},
                {"offset": 0.875, "color": "#3d6cc0"}, {"offset": 0.8891, "color": "#3d6cc0"}, {"offset": 0.8891, "color": "#ffffff"}, {"offset": 0.9063, "color": "#ffffff"},
                {"offset": 0.9063, "color": "#3d6cc0"}, {"offset": 0.9203, "color": "#3d6cc0"}, {"offset": 0.9203, "color": "#ffffff"}, {"offset": 0.9375, "color": "#ffffff"},
                {"offset": 0.9375, "color": "#3d6cc0"}, {"offset": 0.9516, "color": "#3d6cc0"}, {"offset": 0.9516, "color": "#ffffff"}, {"offset": 0.9688, "color": "#ffffff"},
                {"offset": 0.9688, "color": "#3d6cc0"}, {"offset": 0.9828, "color": "#3d6cc0"}, {"offset": 0.9828, "color": "#ffffff"}, {"offset": 1, "color": "#ffffff"}
              ]
            }
          },
          "encoding": {
            "x": {"field": "col", "type": "quantitative", "stack": null, "scale": {"domain": [0.2714, 3.7587], "nice": false, "zero": false}, "axis": null},
            "y": {"datum": 0, "type": "quantitative", "scale": {"domain": [-0.5007, 0.5517], "nice": false, "zero": false}, "axis": null},
            "theta": {"field": "f0", "type": "quantitative", "stack": null, "scale": {"domain": [0, 1], "range": [0, 6.283185307179586]}},
            "theta2": {"field": "f1"}
          }
        },
        {
          "transform": [{"filter": "datum.part === 'rev'"}],
          "mark": {"type": "rule", "color": "#a6a6a6", "strokeWidth": 1},
          "encoding": {
            "x": {"field": "rx", "type": "quantitative", "scale": {"domain": [0.2714, 3.7587], "nice": false, "zero": false}, "axis": null},
            "y": {"field": "ry", "type": "quantitative", "scale": {"domain": [-0.5007, 0.5517], "nice": false, "zero": false}, "axis": null},
            "x2": {"field": "ex"},
            "y2": {"field": "ey"}
          }
        },
        {
          "transform": [{"filter": "datum.part === 'irr'"}],
          "mark": {"type": "text", "font": "Liberation Serif", "fontSize": 22, "fill": "#404040", "align": "center", "baseline": "middle", "dx": 96, "dy": 42},
          "encoding": {
            "x": {"field": "col", "type": "quantitative", "scale": {"domain": [0.2714, 3.7587], "nice": false, "zero": false}, "axis": null},
            "y": {"datum": 0, "type": "quantitative", "scale": {"domain": [-0.5007, 0.5517], "nice": false, "zero": false}, "axis": null},
            "text": {"field": "value", "type": "quantitative", "format": ".2f"}
          }
        },
        {
          "transform": [{"filter": "datum.part === 'pb'"}],
          "mark": {"type": "text", "font": "Liberation Serif", "fontSize": 22, "fill": "#404040", "align": "center", "baseline": "middle"},
          "encoding": {
            "x": {"field": "lx", "type": "quantitative", "scale": {"domain": [0.2714, 3.7587], "nice": false, "zero": false}, "axis": null},
            "y": {"field": "ly", "type": "quantitative", "scale": {"domain": [-0.5007, 0.5517], "nice": false, "zero": false}, "axis": null},
            "text": {"field": "value", "type": "quantitative", "format": ".2f"}
          }
        },
        {
          "transform": [{"filter": "datum.part === 'rev'"}],
          "mark": {"type": "text", "font": "Liberation Serif", "fontSize": 22, "fill": "#404040", "align": "right", "baseline": "middle", "dx": -53},
          "encoding": {
            "x": {"field": "lx", "type": "quantitative", "scale": {"domain": [0.2714, 3.7587], "nice": false, "zero": false}, "axis": null},
            "y": {"field": "ly", "type": "quantitative", "scale": {"domain": [-0.5007, 0.5517], "nice": false, "zero": false}, "axis": null},
            "text": {"field": "value", "type": "quantitative", "format": ".2f"}
          }
        },
        {
          "transform": [{"filter": "datum.part === 'irr'"}],
          "mark": {"type": "text", "font": "Lato", "fontSize": 27, "fill": "#111111", "align": "center", "baseline": "middle", "dx": -158, "dy": 131},
          "encoding": {
            "x": {"field": "col", "type": "quantitative", "scale": {"domain": [0.2714, 3.7587], "nice": false, "zero": false}, "axis": null},
            "y": {"datum": 0, "type": "quantitative", "scale": {"domain": [-0.5007, 0.5517], "nice": false, "zero": false}, "axis": null},
            "text": {"field": "panel"}
          }
        }
      ]
    },
    {
      "data": {"name": "keys"},
      "width": 900, "height": 95,
      "layer": [
        {
          "transform": [{"filter": "datum.key !== 'rev'"}],
          "mark": {"type": "point", "shape": "square", "size": 169, "filled": true, "opacity": 1, "strokeWidth": 0},
          "encoding": {
            "x": {"field": "key", "type": "nominal", "scale": {"type": "point", "padding": 0, "domain": ["irr", "rev", "pb"], "range": [368, 688]}, "axis": null},
            "fill": {"condition": {"test": "datum.key === 'pb'", "value": "#8eaadb"}, "value": "#dae3f1"}
          }
        },
        {
          "transform": [{"filter": "datum.key === 'rev'"}],
          "mark": {
            "type": "point", "shape": "square", "size": 169, "filled": true, "opacity": 1, "strokeWidth": 0,
            "fill": {
              "gradient": "linear", "x1": 0, "y1": 0, "x2": 1, "y2": 1,
              "stops": [
                {"offset": 0, "color": "#3d6cc0"}, {"offset": 0.1125, "color": "#3d6cc0"}, {"offset": 0.1125, "color": "#ffffff"}, {"offset": 0.25, "color": "#ffffff"},
                {"offset": 0.25, "color": "#3d6cc0"}, {"offset": 0.3625, "color": "#3d6cc0"}, {"offset": 0.3625, "color": "#ffffff"}, {"offset": 0.5, "color": "#ffffff"},
                {"offset": 0.5, "color": "#3d6cc0"}, {"offset": 0.6125, "color": "#3d6cc0"}, {"offset": 0.6125, "color": "#ffffff"}, {"offset": 0.75, "color": "#ffffff"},
                {"offset": 0.75, "color": "#3d6cc0"}, {"offset": 0.8625, "color": "#3d6cc0"}, {"offset": 0.8625, "color": "#ffffff"}, {"offset": 1, "color": "#ffffff"}
              ]
            }
          },
          "encoding": {
            "x": {"field": "key", "type": "nominal", "scale": {"type": "point", "padding": 0, "domain": ["irr", "rev", "pb"], "range": [368, 688]}, "axis": null}
          }
        },
        {
          "mark": {"type": "text", "font": "Liberation Serif", "fontSize": 40, "fill": "#000000", "align": "left", "baseline": "alphabetic", "dx": 23, "dy": 8},
          "encoding": {
            "x": {"field": "key", "type": "nominal", "scale": {"type": "point", "padding": 0, "domain": ["irr", "rev", "pb"], "range": [368, 688]}, "axis": null},
            "text": {"field": "main"}
          }
        },
        {
          "mark": {"type": "text", "font": "Liberation Serif", "fontSize": 28, "fill": "#000000", "align": "left", "baseline": "alphabetic", "dx": 50, "dy": 14},
          "encoding": {
            "x": {"field": "key", "type": "nominal", "scale": {"type": "point", "padding": 0, "domain": ["irr", "rev", "pb"], "range": [368, 688]}, "axis": null},
            "text": {"field": "sub"}
          }
        }
      ]
    }
  ]
}
